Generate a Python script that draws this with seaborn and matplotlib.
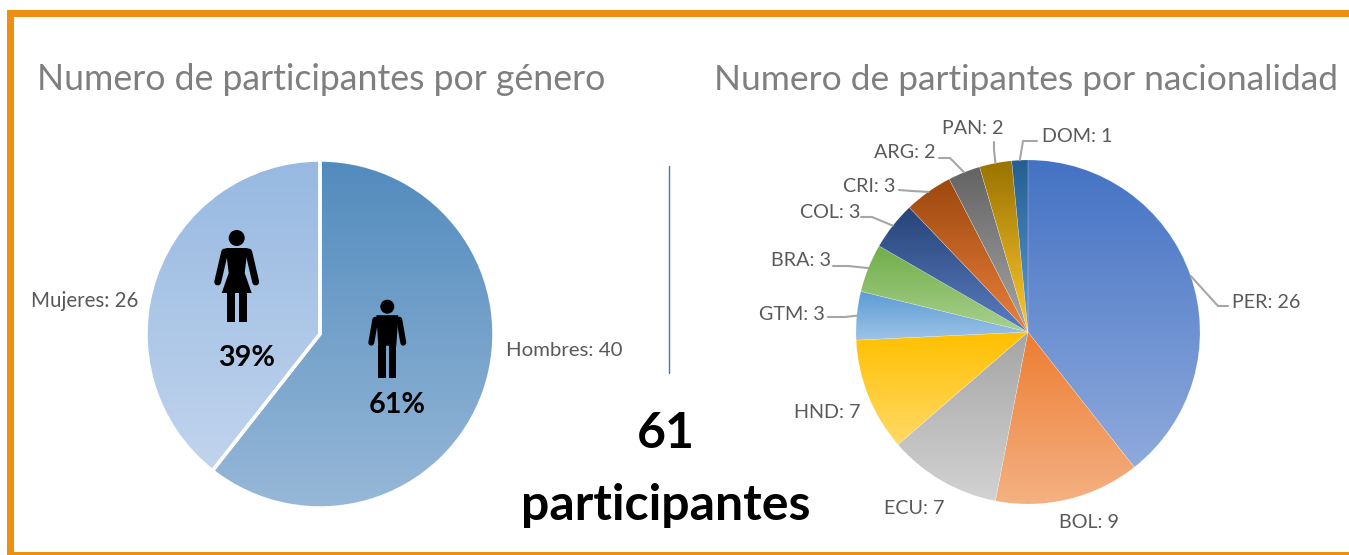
import numpy as np
import matplotlib
matplotlib.use("Agg")
import matplotlib.pyplot as plt
from matplotlib.colors import LinearSegmentedColormap
from matplotlib.patches import Circle, Polygon, Rectangle
import seaborn as sns

genero = ["Hombres", "Mujeres"]
genero_valores = [40, 26]
genero_pct = ["61%", "39%"]

paises = ["PER", "BOL", "ECU", "HND", "GTM", "BRA", "COL", "CRI", "ARG", "PAN", "DOM"]
paises_valores = [26, 9, 7, 7, 3, 3, 3, 3, 2, 2, 1]

total_participantes = 61

# colores (arriba, abajo) de cada porcion
genero_colores = [("#528bbd", "#97b8d8"), ("#97b9e1", "#c1d4ed")]
paises_colores = [
    ("#4472c4", "#8faadc"), ("#ed7d31", "#f4b183"), ("#a5a5a5", "#d2d2d2"),
    ("#ffc000", "#ffd966"), ("#5b9bd5", "#9dc3e6"), ("#70ad47", "#a9d18e"),
    ("#264478", "#5b7cc0"), ("#9e480e", "#e8803c"), ("#636363", "#a5a5a5"),
    ("#997300", "#ffc82e"), ("#255e91", "#5b9bd5"),
]

# posicion de etiquetas en pixeles: x, y, inicio de guia, codo de guia
etiquetas_paises = {
    "PER": (1232, 302, (1228, 306), (1218, 306)),
    "BOL": (1059, 523, None, None),
    "ECU": (884, 509, None, None),
    "HND": (794, 412, None, None),
    "GTM": (759, 314, (828, 317), (845, 317)),
    "BRA": (771, 261, (833, 266), (848, 266)),
    "COL": (800, 212, (861, 217), (872, 217)),
    "CRI": (843, 186, (899, 190), (912, 191)),
    "ARG": (874, 153, (939, 158), (950, 158)),
    "PAN": (942, 129, (994, 142), (994, 150)),
    "DOM": (1042, 136, (1037, 141), (1023, 141)),
}

sns.set_theme(style="white")
plt.rcParams["font.family"] = ["Lato", "DejaVu Sans"]

W, H = 1349, 555
fig = plt.figure(figsize=(W / 100, H / 100), dpi=100, facecolor="white")


def pie_axes(cx, cy, r):
    ax = fig.add_axes([(cx - r) / W, (H - cy - r) / H, 2 * r / W, 2 * r / H])
    return ax


def gradiente(ax, wedge, arriba, abajo):
    # degradado vertical recortado a la porcion
    ext = wedge.get_path().get_extents()
    cmap = LinearSegmentedColormap.from_list("g", [arriba, abajo])
    im = ax.imshow(np.linspace(0, 1, 256).reshape(-1, 1), cmap=cmap, aspect="auto",
                   origin="upper", extent=[ext.x0, ext.x1, ext.y0, ext.y1], zorder=1)
    im.set_clip_path(wedge)


def dibuja_pie(cx, cy, r, valores, colores, borde, ancho):
    ax = pie_axes(cx, cy, r)
    wedges, _ = ax.pie(valores, startangle=90, counterclock=False, radius=1,
                       colors=[c[0] for c in colores])
    for w, c in zip(wedges, colores):
        gradiente(ax, w, c[0], c[1])
        w.set_facecolor("none")
        w.set_edgecolor(borde)
        w.set_linewidth(ancho)
        w.set_zorder(2)
    ax.set_xlim(-1, 1)
    ax.set_ylim(-1, 1)
    ax.set_aspect("equal")
    ax.axis("off")
    return wedges


wedges_gen = dibuja_pie(320, 334, 174, genero_valores, genero_colores, "white", 2.5)
wedges_pais = dibuja_pie(1028, 332, 172, paises_valores, paises_colores, (1, 1, 1, 0.35), 0.3)

# capa en pixeles para marco, textos e iconos
ov = fig.add_axes([0, 0, 1, 1], zorder=5)
ov.set_xlim(0, W)
ov.set_ylim(H, 0)
ov.axis("off")
ov.patch.set_alpha(0)

naranja = "#ee8f11"
ov.add_patch(Rectangle((7, 9.5), W, 7.5, color=naranja, lw=0))
ov.add_patch(Rectangle((7, 9.5), 7, H, color=naranja, lw=0))
ov.add_patch(Rectangle((7, 552), W, 3, color=naranja, lw=0))

gris = "#7f7f7f"
texto = "#595959"
ov.text(37, 80, "Numero de participantes por género", color=gris, fontsize=25.65, va="center", ha="left")
ov.text(714, 80, "Numero de partipantes por nacionalidad", color=gris, fontsize=25.5, va="center", ha="left")

ov.text(31, 301, f"{genero[1]}: {genero_valores[1]}", color=texto, fontsize=14.8, va="center")
ov.text(506, 351, f"{genero[0]}: {genero_valores[0]}", color=texto, fontsize=14.7, va="center")

ov.plot([669, 669], [166, 373], color="#4f71b5", lw=1.0)

ov.text(666, 433, str(total_participantes), color="black", fontsize=36, fontweight="bold", ha="center", va="center")
ov.text(666, 505, "participantes", color="black", fontsize=36, fontweight="bold", ha="center", va="center")

ov.text(247, 358, genero_pct[1], color="black", fontsize=20.7, fontweight="bold", ha="center", va="center")
ov.text(397, 405, genero_pct[0], color="black", fontsize=20.7, fontweight="bold", ha="center", va="center")


def mujer(cx, top):
    x = lambda v: cx + v
    y = lambda v: top + v
    ov.add_patch(Circle((x(0), y(8)), 8, color="black", lw=0))
    ov.add_patch(Polygon([(x(-11), y(18)), (x(11), y(18)), (x(8), y(43)), (x(15), y(63)),
                          (x(-15), y(63)), (x(-8), y(43))], color="black", lw=0))
    for lado in (-1, 1):
        ov.plot([x(lado * 12), x(lado * 19)], [y(22), y(52)], color="black", lw=5, solid_capstyle="round")
    ov.add_patch(Rectangle((x(-10), y(60)), 8.3, 32, color="black", lw=0))
    ov.add_patch(Rectangle((x(2.3), y(60)), 8.3, 32, color="black", lw=0))


def hombre(cx, top):
    x = lambda v: cx + v
    y = lambda v: top + v
    ov.add_patch(Circle((x(0), y(7)), 7, color="black", lw=0))
    ov.add_patch(Polygon([(x(-11), y(15.5)), (x(11), y(15.5)), (x(9), y(46)), (x(-9), y(46))], color="black", lw=0))
    for lado in (-1, 1):
        ov.plot([x(lado * 12), x(lado * 16)], [y(20), y(43)], color="black", lw=4.3, solid_capstyle="round")
    ov.add_patch(Rectangle((x(-9), y(45)), 7.7, 33, color="black", lw=0))
    ov.add_patch(Rectangle((x(1.7), y(45)), 7.3, 33, color="black", lw=0))


mujer(236.7, 230)
hombre(387.3, 299.7)

# etiquetas y guias del pie de nacionalidad
for nombre, valor, w in zip(paises, paises_valores, wedges_pais):
    px, py, inicio, codo = etiquetas_paises[nombre]
    ov.text(px, py, f"{nombre}: {valor}", color=texto, fontsize=14.2, ha="left", va="center")
    if inicio is None:
        continue
    ang = np.deg2rad((w.theta1 + w.theta2) / 2)
    borde = (1028 + 172 * np.cos(ang), 332 - 172 * np.sin(ang))
    ov.plot([inicio[0], codo[0], borde[0]], [inicio[1], codo[1], borde[1]],
            color="#a6a6a6", lw=1.5)

fig.savefig("out.png", dpi=100)
